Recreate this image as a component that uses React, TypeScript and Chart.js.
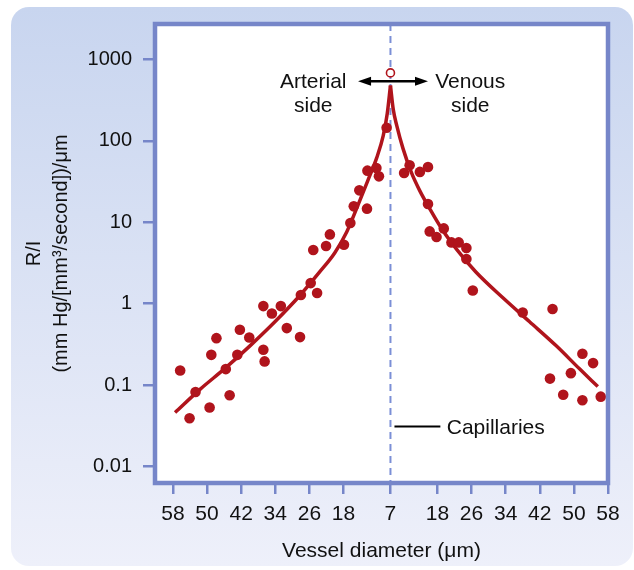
import { useEffect, useRef } from 'react';
import { Chart, registerables } from 'chart.js';

Chart.register(...registerables);

const FONT = "'Liberation Sans', Arial, Helvetica, sans-serif";
const RED = '#b0141c';
const AXIS_BLUE = '#7686c9';
const DASH_BLUE = '#7b8fd6';
const INK = '#111111';

// Capillary diameter: the x axis is centred here, arterioles to the left, venules to the right
const CAPILLARY_D = 7;

// Measured vessels, arterial side: diameter (μm) and R/I
const arterialDiameter = [56.3, 54.1, 52.7, 49.4, 49.0, 47.8, 45.6, 44.7, 42.9, 42.3, 40.1, 36.8, 36.8, 36.5, 34.8, 32.7, 31.3, 28.2, 28.0, 25.7, 24.2, 25.1, 22.1, 21.2, 17.9, 16.4, 15.6, 12.5, 14.3, 12.4, 10.3, 9.7, 7.9];
const arterialRI = [0.151, 0.039, 0.082, 0.053, 0.235, 0.377, 0.157, 0.075, 0.235, 0.478, 0.384, 0.933, 0.271, 0.195, 0.757, 0.933, 0.501, 0.388, 1.28, 1.79, 1.35, 4.56, 5.11, 7.1, 5.3, 9.8, 15.7, 14.7, 24.7, 43.1, 46.5, 36.7, 145];

// Measured vessels, venous side
const venousDiameter = [10.2, 11.5, 13.9, 15.8, 15.8, 16.2, 17.8, 19.5, 21.3, 23.0, 24.8, 24.8, 26.3, 38.0, 45.0, 44.4, 47.5, 49.3, 52.0, 52.0, 54.5, 56.3];
const venousRI = [40.4, 50.1, 41.6, 47.9, 16.8, 7.73, 6.6, 8.41, 5.66, 5.66, 4.83, 3.54, 1.45, 0.78, 0.86, 0.12, 0.076, 0.14, 0.242, 0.065, 0.186, 0.072];

// Fitted curves
const arterialFitDiameter = [57.5, 51.65, 45.8, 39.94, 34.09, 28.24, 23.55, 20.04, 17.23, 14.66, 12.31, 10.21, 8.69, 7.75, 7];
const arterialFitRI = [0.0459, 0.0885, 0.16, 0.303, 0.599, 1.26, 2.47, 4.23, 7.66, 16.0, 32.5, 62.3, 116, 217, 479];
const venousFitDiameter = [7, 7.66, 8.48, 9.95, 11.92, 13.86, 16.2, 19.01, 22.76, 26.97, 33.36, 39.62, 45.87, 51.32, 55.61];
const venousFitRI = [479, 243, 154, 80.4, 40.7, 24.5, 14.7, 8.34, 4.48, 2.47, 1.18, 0.599, 0.303, 0.158, 0.0959];

// Capillary marker
const capillaryRI = [685];

// Axis ticks
const xTickDiameters = [58, 50, 42, 34, 26, 18, 7, 18, 26, 34, 42, 50, 58];
const xTickSides = [-1, -1, -1, -1, -1, -1, 0, 1, 1, 1, 1, 1, 1];
const yTickValues = [0.01, 0.1, 1, 10, 100, 1000];
const yTickLabels = ['0.01', '0.1', '1', '10', '100', '1000'];

// Annotation anchors (data space)
const arrowLevel = 540;
const arrowFrom = -7.6;
const arrowTo = 8.8;
const arterialLabelX = -18.1;
const venousLabelX = 18.7;
const capillaryLabelLevel = 0.0309;
const capillaryLineEnd = 11.7;
const capillaryTextX = 13.2;

const offset = (d: number, side: number) => side * (d - CAPILLARY_D);
const toPoints = (ds: number[], vs: number[], side: number) =>
  ds.map((d, i) => ({ x: offset(d, side), y: vs[i] }));

const xTickValues = xTickDiameters.map((d, i) => offset(d, xTickSides[i]));

const decorPlugin = {
  id: 'decor',
  beforeDraw(chart: any) {
    const { ctx, chartArea: a, width, height } = chart;
    ctx.save();
    ctx.fillStyle = '#ffffff';
    ctx.fillRect(0, 0, width, height);
    // rounded tinted panel
    const x0 = 11, y0 = 7, x1 = 633, y1 = 566, r = 18;
    const g = ctx.createLinearGradient(0, y0, 0, y1);
    g.addColorStop(0, '#c8d5ef');
    g.addColorStop(1, '#eef0fa');
    ctx.fillStyle = g;
    ctx.beginPath();
    ctx.moveTo(x0 + r, y0);
    ctx.lineTo(x1 - r, y0);
    ctx.arcTo(x1, y0, x1, y0 + r, r);
    ctx.lineTo(x1, y1 - r);
    ctx.arcTo(x1, y1, x1 - r, y1, r);
    ctx.lineTo(x0 + r, y1);
    ctx.arcTo(x0, y1, x0, y1 - r, r);
    ctx.lineTo(x0, y0 + r);
    ctx.arcTo(x0, y0, x0 + r, y0, r);
    ctx.closePath();
    ctx.fill();
    ctx.fillStyle = '#ffffff';
    ctx.fillRect(a.left, a.top, a.right - a.left, a.bottom - a.top);
    ctx.restore();
  },
  beforeDatasetsDraw(chart: any) {
    const { ctx, chartArea: a } = chart;
    const cx = chart.scales.x.getPixelForValue(0);
    ctx.save();
    ctx.strokeStyle = DASH_BLUE;
    ctx.lineWidth = 2;
    ctx.setLineDash([7, 5]);
    ctx.beginPath();
    ctx.moveTo(cx, a.top);
    ctx.lineTo(cx, a.bottom);
    ctx.stroke();
    ctx.restore();
  },
  afterDraw(chart: any) {
    const { ctx, chartArea: a } = chart;
    const xs = chart.scales.x;
    const ys = chart.scales.y;
    ctx.save();
    // plot frame
    ctx.strokeStyle = AXIS_BLUE;
    ctx.lineWidth = 4.5;
    ctx.strokeRect(a.left, a.top, a.right - a.left, a.bottom - a.top);

    // double-headed arrow
    const ay = ys.getPixelForValue(arrowLevel);
    const ax0 = xs.getPixelForValue(arrowFrom);
    const ax1 = xs.getPixelForValue(arrowTo);
    const head = 13, half = 4.5;
    ctx.strokeStyle = '#000';
    ctx.fillStyle = '#000';
    ctx.lineWidth = 2.5;
    ctx.beginPath();
    ctx.moveTo(ax0 + head - 1, ay);
    ctx.lineTo(ax1 - head + 1, ay);
    ctx.stroke();
    ctx.beginPath();
    ctx.moveTo(ax0, ay);
    ctx.lineTo(ax0 + head, ay - half);
    ctx.lineTo(ax0 + head, ay + half);
    ctx.closePath();
    ctx.fill();
    ctx.beginPath();
    ctx.moveTo(ax1, ay);
    ctx.lineTo(ax1 - head, ay - half);
    ctx.lineTo(ax1 - head, ay + half);
    ctx.closePath();
    ctx.fill();

    // side labels
    ctx.fillStyle = INK;
    ctx.font = `21px ${FONT}`;
    ctx.textAlign = 'center';
    ctx.textBaseline = 'alphabetic';
    const lx = xs.getPixelForValue(arterialLabelX);
    const rx = xs.getPixelForValue(venousLabelX);
    ctx.fillText('Arterial', lx, ay + 6.5);
    ctx.fillText('side', lx, ay + 30.5);
    ctx.fillText('Venous', rx, ay + 6.5);
    ctx.fillText('side', rx, ay + 30.5);

    // capillaries callout
    const cy = ys.getPixelForValue(capillaryLabelLevel);
    const cx = xs.getPixelForValue(0);
    ctx.strokeStyle = '#000';
    ctx.lineWidth = 2;
    ctx.beginPath();
    ctx.moveTo(cx + 4, cy);
    ctx.lineTo(xs.getPixelForValue(capillaryLineEnd), cy);
    ctx.stroke();
    ctx.textAlign = 'left';
    ctx.fillText('Capillaries', xs.getPixelForValue(capillaryTextX), cy + 7.5);
    ctx.restore();
  },
};

export default function App() {
  const canvasRef = useRef<HTMLCanvasElement | null>(null);

  useEffect(() => {
    const canvas = canvasRef.current;
    if (!canvas) return;
    Chart.defaults.font.family = FONT;

    const chart = new Chart(canvas, {
      type: 'scatter',
      data: {
        datasets: [
          {
            label: 'Capillary',
            data: capillaryRI.map((v) => ({ x: 0, y: v })),
            pointRadius: 4,
            pointBorderWidth: 1.6,
            pointBackgroundColor: '#ffffff',
            pointBorderColor: RED,
            showLine: false,
          },
          {
            label: 'Arterial',
            data: toPoints(arterialDiameter, arterialRI, -1),
            pointRadius: 5.3,
            pointBorderWidth: 0,
            pointBackgroundColor: RED,
            showLine: false,
          },
          {
            label: 'Venous',
            data: toPoints(venousDiameter, venousRI, 1),
            pointRadius: 5.3,
            pointBorderWidth: 0,
            pointBackgroundColor: RED,
            showLine: false,
          },
          {
            label: 'Arterial fit',
            data: toPoints(arterialFitDiameter, arterialFitRI, -1),
            showLine: true,
            pointRadius: 0,
            borderColor: RED,
            borderWidth: 3.5,
            cubicInterpolationMode: 'monotone',
          },
          {
            label: 'Venous fit',
            data: toPoints(venousFitDiameter, venousFitRI, 1),
            showLine: true,
            pointRadius: 0,
            borderColor: RED,
            borderWidth: 3.5,
            cubicInterpolationMode: 'monotone',
          },
        ],
      },
      options: {
        responsive: false,
        animation: false,
        events: [],
        layout: { padding: { left: 0, right: 26, top: 24, bottom: 0 } },
        plugins: {
          legend: { display: false },
          tooltip: { enabled: false },
        },
        scales: {
          x: {
            type: 'linear',
            min: -55.2,
            max: 51,
            afterBuildTicks: (scale: any) => {
              scale.ticks = xTickValues.map((v) => ({ value: v }));
            },
            afterFit: (scale: any) => {
              scale.height = 87;
            },
            border: { display: false },
            grid: {
              drawOnChartArea: false,
              drawTicks: true,
              tickLength: 11,
              color: AXIS_BLUE,
              lineWidth: 2.5,
            },
            ticks: {
              color: INK,
              font: { size: 21 },
              padding: 8,
              maxRotation: 0,
              autoSkip: false,
              callback: (_v: any, i: number) => String(xTickDiameters[i]),
            },
            title: {
              display: true,
              text: 'Vessel diameter (μm)',
              color: INK,
              font: { size: 21 },
              padding: { top: 0, bottom: 6 },
            },
          },
          y: {
            type: 'logarithmic',
            min: 0.00625,
            max: 2735,
            afterBuildTicks: (scale: any) => {
              scale.ticks = yTickValues.map((v) => ({ value: v }));
            },
            afterFit: (scale: any) => {
              scale.width = 155;
            },
            border: { display: false },
            grid: {
              drawOnChartArea: false,
              drawTicks: true,
              tickLength: 12,
              color: AXIS_BLUE,
              lineWidth: 2.5,
            },
            ticks: {
              color: INK,
              font: { size: 20 },
              padding: 11,
              autoSkip: false,
              callback: (_v: any, i: number) => yTickLabels[i],
            },
            title: {
              display: true,
              text: ['R/I', '(mm Hg/[mm³/second])/μm'],
              color: INK,
              font: { size: 20, lineHeight: 1.35 },
              padding: { top: 21, bottom: 0 },
            },
          },
        },
      } as any,
      plugins: [decorPlugin],
    });

    return () => chart.destroy();
  }, []);

  return (
    <div style={{ position: 'fixed', left: 0, top: 0, width: 634, height: 570 }}>
      <canvas ref={canvasRef} width={634} height={570} style={{ width: 634, height: 570, display: 'block' }} />
    </div>
  );
}
